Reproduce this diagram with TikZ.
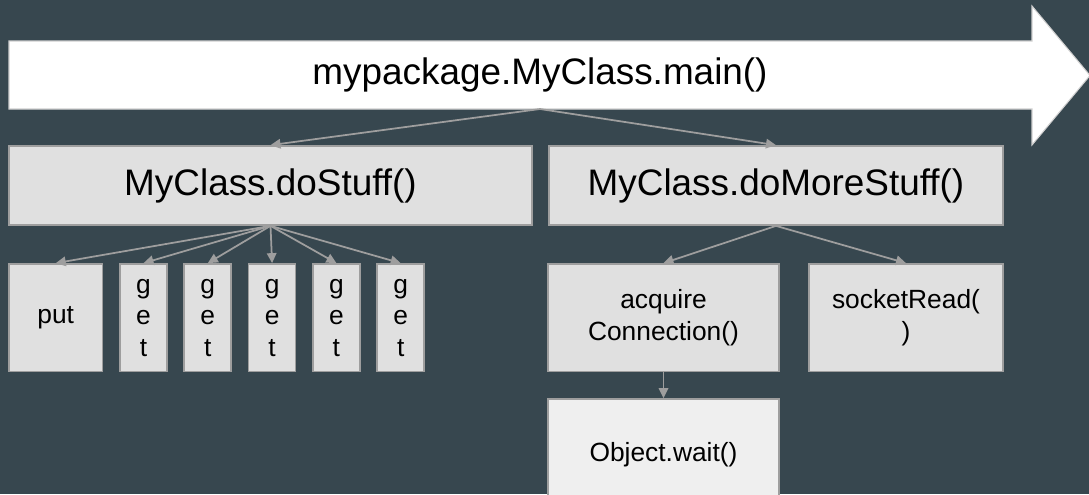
\documentclass[tikz,border=0pt]{standalone}
\usepackage{fontspec}
\setmainfont{Liberation Sans}
\usetikzlibrary{arrows.meta}
\definecolor{slate}{HTML}{37474F}
\definecolor{boxfill}{HTML}{E0E0E0}
\definecolor{boxline}{HTML}{9E9E9E}
\definecolor{waitfill}{HTML}{EFEFEF}
\definecolor{barline}{HTML}{CFCFCF}
\tikzset{
  call/.style={draw=boxline, fill=boxfill, line width=1pt, inner sep=0pt, align=center, minimum height=2.15cm, font=\fontsize{15}{18}\selectfont},
  bigcall/.style={call, minimum height=1.58cm, font=\fontsize{21}{25}\selectfont},
  getbox/.style={call, minimum width=0.94cm},
  link/.style={draw=boxline, line width=1pt, -{Triangle[length=0.2cm,width=0.19cm]}},
}

\begin{document}
\begin{tikzpicture}[x=0.02cm,y=-0.02cm]
	\clip (0,0) rectangle (1089,494);
	\fill[slate] (0,0) rectangle (1089,494);
	%main
	\draw[barline, fill=white, line width=0.6pt] (9,41) -- (1032,41) -- (1032,6) -- (1090,75.5) -- (1032,145) -- (1032,109) -- (9,109) -- cycle;
	\node[font=\fontsize{21}{25}\selectfont] (main) at (540,75) {mypackage.MyClass.main()};
	\coordinate (mainfoot) at (540,109);
	%second row
	\node[bigcall, minimum width=10.46cm] (stuff) at (270.5,185.5) {MyClass.doStuff()};
	\node[bigcall, minimum width=9.08cm] (morestuff) at (776,185.5) {MyClass.doMoreStuff()};
	\draw[link] (mainfoot) -- (stuff.north);
	\draw[link] (mainfoot) -- (morestuff.north);
	%doStuff children
	\node[call, minimum width=1.87cm] (put) at (55.75,317.75) {put};
	\draw[link] (stuff.south) -- (put.north);
	\foreach \i [count=\n] in {0,...,4} {
		\node[getbox] (get\n) at ({143.5+64.3*\i},317.75) {g\\e\\t};
		\draw[link] (stuff.south) -- (get\n.north);
	}
	%doMoreStuff children
	\node[call, minimum width=4.62cm] (acquire) at (663.5,317.75) {acquire\\Connection()};
	\node[call, minimum width=3.88cm] (socket) at (906,317.75) {socketRead(\\)};
	\node[call, fill=waitfill, minimum width=4.62cm, minimum height=2.24cm] (wait) at (663.5,455) {Object.wait()};
	\draw[link] (morestuff.south) -- (acquire.north);
	\draw[link] (morestuff.south) -- (socket.north);
	\draw[link] (acquire.south) -- (wait.north);
\end{tikzpicture}
\end{document}
